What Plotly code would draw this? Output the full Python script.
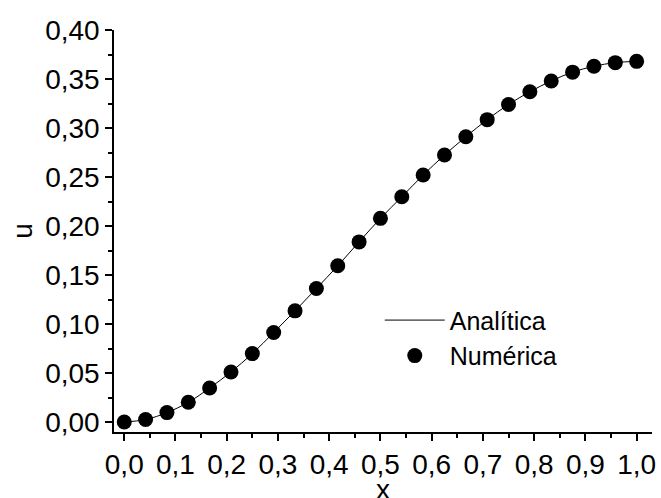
import plotly.graph_objects as go

x_vals = [0.0, 1/24, 2/24, 3/24, 4/24, 5/24, 6/24, 7/24, 8/24, 9/24, 10/24, 11/24, 12/24,
          13/24, 14/24, 15/24, 16/24, 17/24, 18/24, 19/24, 20/24, 21/24, 22/24, 23/24, 1.0]
u_numerica = [0.000, 0.0025, 0.0096, 0.0201, 0.0347, 0.0511, 0.0698, 0.0913, 0.1134, 0.1362,
              0.1594, 0.1838, 0.2078, 0.2298, 0.2520, 0.2724, 0.2910, 0.3085, 0.3240, 0.3370,
              0.3480, 0.3570, 0.3630, 0.3667, 0.3680]
u_analitica = u_numerica

font_family = "Liberation Sans, Arial, sans-serif"

fig = go.Figure()
fig.add_trace(go.Scatter(x=x_vals, y=u_analitica, mode="lines", name="Analítica",
                         line=dict(color="black", width=1, shape="spline")))
fig.add_trace(go.Scatter(x=x_vals, y=u_numerica, mode="markers", name="Numérica",
                         marker=dict(color="black", size=15)))

fig.update_layout(
    width=661, height=498,
    margin=dict(l=114, r=9, t=30, b=66),
    paper_bgcolor="white", plot_bgcolor="white",
    separators=", ",
    font=dict(family=font_family, color="black", size=28),
    legend=dict(x=0.494, y=0.335, xanchor="left", yanchor="top",
                font=dict(size=25, family=font_family), bgcolor="rgba(0,0,0,0)",
                itemwidth=60, tracegroupgap=0),
    annotations=[dict(text="x", xref="paper", yref="paper", x=0.5, y=-0.142,
                      xanchor="center", yanchor="middle", showarrow=False,
                      font=dict(size=28, family=font_family, color="black"))],
)
fig.update_xaxes(
    range=[-0.02, 1.03], tickvals=[i/10 for i in range(11)], tickformat=".1f",
    showline=True, linecolor="black", linewidth=1.5, mirror=False,
    ticks="outside", ticklen=7, tickwidth=1.5, tickcolor="black",
    minor=dict(ticks="outside", ticklen=4, tickwidth=1.5, tickcolor="black", dtick=0.05, tick0=0),
    showgrid=False, zeroline=False, automargin=False,
    tickfont=dict(size=28),
)
fig.update_yaxes(
    range=[-0.0102, 0.40], tickvals=[i*0.05 for i in range(9)], tickformat=".2f",
    showline=True, linecolor="black", linewidth=1.5, mirror=False,
    ticks="outside", ticklen=7, tickwidth=1.5, tickcolor="black",
    minor=dict(ticks="outside", ticklen=4, tickwidth=1.5, tickcolor="black", dtick=0.025, tick0=0),
    showgrid=False, zeroline=False, automargin=False,
    title=dict(text="u", font=dict(size=28), standoff=4),
    tickfont=dict(size=28),
)

fig.write_html("out.html", config={"displayModeBar": False},
               post_script="document.body.style.margin='0';")
